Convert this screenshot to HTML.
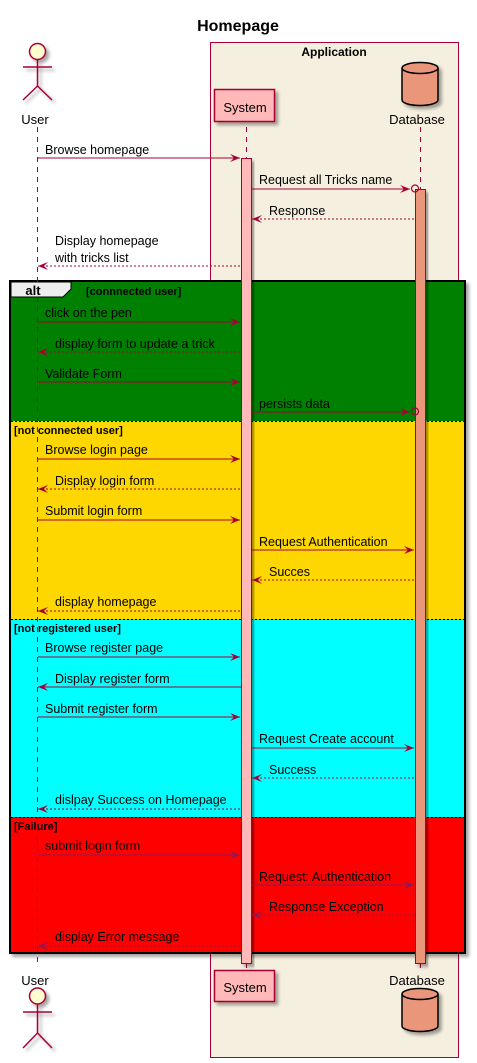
<!DOCTYPE html>
<html><head><meta charset="utf-8"><style>
html,body{margin:0;padding:0;background:#fff;}
svg{display:block;}
text{font-family:"Liberation Sans",sans-serif;}
</style></head><body>
<svg width="477" height="1063" viewBox="0 0 477 1063" xmlns="http://www.w3.org/2000/svg">
<defs>
<filter id="sh" x="-20%" y="-20%" width="150%" height="150%"><feDropShadow dx="3" dy="3" stdDeviation="1.5" flood-color="#000" flood-opacity="0.35"/></filter>
</defs>
<text x="238" y="31" font-size="16" font-weight="bold" text-anchor="middle">Homepage</text>
<rect x="210.5" y="42.5" width="248" height="1015" fill="#F5EFDF" stroke="#A80036" stroke-width="1"/>
<text x="334" y="56" font-size="12" font-weight="bold" text-anchor="middle">Application</text>

<g stroke="#A80036" stroke-width="1.5" fill="none">
<g filter="url(#sh)">
<circle cx="37.5" cy="51.5" r="8" fill="#FEFECE"/>
<line x1="37.5" y1="59.5" x2="37.5" y2="86"/>
<line x1="23" y1="67" x2="52" y2="67"/>
<line x1="37.5" y1="86" x2="23" y2="100"/>
<line x1="37.5" y1="86" x2="52" y2="100"/>
</g>
<g filter="url(#sh)">
<circle cx="37.5" cy="996" r="8" fill="#FEFECE"/>
<line x1="37.5" y1="1004" x2="37.5" y2="1033"/>
<line x1="23" y1="1012" x2="52" y2="1012"/>
<line x1="37.5" y1="1033" x2="23" y2="1048"/>
<line x1="37.5" y1="1033" x2="52" y2="1048"/>
</g>
</g>
<text x="35" y="124" font-size="13" text-anchor="middle">User</text>
<text x="35" y="985" font-size="13" text-anchor="middle">User</text>

<rect x="214.5" y="89.5" width="60" height="32" fill="#FFB9B9" stroke="#A80036" stroke-width="1.5" filter="url(#sh)"/>
<text x="245" y="112" font-size="13" text-anchor="middle">System</text>
<rect x="214.5" y="970.5" width="60" height="31" fill="#FFB9B9" stroke="#A80036" stroke-width="1.5" filter="url(#sh)"/>
<text x="245" y="992" font-size="13" text-anchor="middle">System</text>

<g filter="url(#sh)" stroke="#000" stroke-width="1.5">
<path d="M402,68 a18,5.5 0 0 1 36,0 v32 a18,5.5 0 0 1 -36,0 z" fill="#EA967A"/>
<path d="M402,68 a18,5.5 0 0 0 36,0" fill="none"/>
</g>
<text x="417" y="124" font-size="13" text-anchor="middle">Database</text>
<text x="417" y="985" font-size="13" text-anchor="middle">Database</text>
<g filter="url(#sh)" stroke="#000" stroke-width="1.5">
<path d="M402,994 a18,5.5 0 0 1 36,0 v32 a18,5.5 0 0 1 -36,0 z" fill="#EA967A"/>
<path d="M402,994 a18,5.5 0 0 0 36,0" fill="none"/>
</g>

<g filter="url(#sh)"><rect x="10" y="281" width="455" height="672" fill="#008000" stroke="#000" stroke-width="2"/></g>
<rect x="11" y="421" width="453" height="198" fill="#FFD700"/>
<rect x="11" y="619" width="453" height="198" fill="#00FFFF"/>
<rect x="11" y="817" width="453" height="135" fill="#FF0000"/>
<rect x="10" y="281" width="455" height="672" fill="none" stroke="#000" stroke-width="2"/>
<g stroke="#000" stroke-width="1" stroke-dasharray="2,2">
<line x1="11" y1="421.5" x2="464" y2="421.5"/>
<line x1="11" y1="619.5" x2="464" y2="619.5"/>
<line x1="11" y1="817.5" x2="464" y2="817.5"/>
</g>
<path d="M11,282 H71 V289 L63,297 H11 Z" fill="#EEEEEE" stroke="#000" stroke-width="1"/>
<text x="33" y="295" font-size="13" font-weight="bold" text-anchor="middle">alt</text>
<text x="86" y="295" font-size="11" font-weight="bold">[connnected user]</text>
<text x="14" y="434" font-size="11" font-weight="bold">[not connected user]</text>
<text x="14" y="632" font-size="11" font-weight="bold">[not registered user]</text>
<text x="14" y="830" font-size="11" font-weight="bold">[Failure]</text>

<g stroke="#A80036" stroke-width="1" stroke-dasharray="5,5">
<line x1="37.5" y1="127" x2="37.5" y2="966"/>
<line x1="246.5" y1="127" x2="246.5" y2="158"/>
<line x1="246.5" y1="963" x2="246.5" y2="970"/>
<line x1="420.5" y1="127" x2="420.5" y2="189"/>
<line x1="420.5" y1="963" x2="420.5" y2="970"/>
</g>
<rect x="241.5" y="158.5" width="10" height="805" fill="#FFB9B9" stroke="#A80036" stroke-width="1" filter="url(#sh)"/>
<rect x="415.5" y="189.5" width="10" height="774" fill="#EA967A" stroke="#A80036" stroke-width="1" filter="url(#sh)"/>

<g font-size="12.5" fill="#000">
<g stroke="#A80036" stroke-width="1" fill="none">
<line x1="38" y1="158" x2="240" y2="158"/>
<line x1="252" y1="189" x2="410" y2="189"/>
<line x1="252" y1="219" x2="415" y2="219" stroke-dasharray="2,2"/>
<line x1="38" y1="266" x2="241" y2="266" stroke-dasharray="2,2"/>
<line x1="38" y1="322" x2="240" y2="322"/>
<line x1="38" y1="352" x2="241" y2="352" stroke-dasharray="2,2"/>
<line x1="38" y1="382" x2="240" y2="382"/>
<line x1="252" y1="412" x2="410" y2="412"/>
<line x1="38" y1="459" x2="240" y2="459"/>
<line x1="38" y1="489" x2="241" y2="489" stroke-dasharray="2,2"/>
<line x1="38" y1="520" x2="240" y2="520"/>
<line x1="252" y1="550" x2="414" y2="550"/>
<line x1="252" y1="580" x2="415" y2="580" stroke-dasharray="2,2"/>
<line x1="38" y1="611" x2="241" y2="611" stroke-dasharray="2,2"/>
<line x1="38" y1="657" x2="240" y2="657"/>
<line x1="38" y1="687" x2="241" y2="687"/>
<line x1="38" y1="717" x2="240" y2="717"/>
<line x1="252" y1="748" x2="414" y2="748"/>
<line x1="252" y1="778" x2="415" y2="778" stroke-dasharray="2,2"/>
<line x1="38" y1="809" x2="241" y2="809" stroke-dasharray="2,2"/>
</g>
<g stroke="#8B1A5A" stroke-width="1" fill="none">
<line x1="38" y1="855" x2="240" y2="855"/>
<line x1="252" y1="885" x2="414" y2="885"/>
<line x1="252" y1="915" x2="415" y2="915" stroke-dasharray="2,2"/>
<line x1="38" y1="946" x2="241" y2="946" stroke-dasharray="2,2"/>
</g>
<g fill="#A80036">
<polygon points="230,154 240,158 230,162 234,158"/>
<polygon points="400,185 410,189 400,193 404,189"/>
<polygon points="262,215 252,219 262,223 258,219"/>
<polygon points="48,262 38,266 48,270 44,266"/>
<polygon points="230,318 240,322 230,326 234,322"/>
<polygon points="48,348 38,352 48,356 44,352"/>
<polygon points="230,378 240,382 230,386 234,382"/>
<polygon points="400,408 410,412 400,416 404,412"/>
<polygon points="230,455 240,459 230,463 234,459"/>
<polygon points="48,485 38,489 48,493 44,489"/>
<polygon points="230,516 240,520 230,524 234,520"/>
<polygon points="404,546 414,550 404,554 408,550"/>
<polygon points="262,576 252,580 262,584 258,580"/>
<polygon points="48,607 38,611 48,615 44,611"/>
<polygon points="230,653 240,657 230,661 234,657"/>
<polygon points="48,683 38,687 48,691 44,687"/>
<polygon points="230,713 240,717 230,721 234,717"/>
<polygon points="404,744 414,748 404,752 408,748"/>
<polygon points="262,774 252,778 262,782 258,778"/>
<polygon points="48,805 38,809 48,813 44,809"/>
</g>
<g fill="#8B1A5A">
<polygon points="230,851 240,855 230,859 234,855"/>
<polygon points="404,881 414,885 404,889 408,885"/>
<polygon points="262,911 252,915 262,919 258,915"/>
<polygon points="48,942 38,946 48,950 44,946"/>
</g>
<circle cx="415" cy="188.5" r="3.5" fill="none" stroke="#A80036" stroke-width="1.2"/>
<circle cx="415" cy="411.5" r="3.5" fill="none" stroke="#A80036" stroke-width="1.2"/>

<text x="45" y="154">Browse homepage</text>
<text x="259" y="184">Request all Tricks name</text>
<text x="269" y="215">Response</text>
<text x="55" y="245">Display homepage</text>
<text x="55" y="262">with tricks list</text>
<text x="45" y="317">click on the pen</text>
<text x="55" y="348">display form to update a trick</text>
<text x="45" y="378">Validate Form</text>
<text x="259" y="408">persists data</text>
<text x="45" y="454">Browse login page</text>
<text x="55" y="485">Display login form</text>
<text x="45" y="515">Submit login form</text>
<text x="259" y="546">Request Authentication</text>
<text x="269" y="576">Succes</text>
<text x="55" y="606">display homepage</text>
<text x="45" y="652">Browse register page</text>
<text x="55" y="683">Display register form</text>
<text x="45" y="713">Submit register form</text>
<text x="259" y="743">Request Create account</text>
<text x="269" y="774">Success</text>
<text x="55" y="804">dislpay Success on Homepage</text>
<text x="45" y="850">submit login form</text>
<text x="259" y="881">Request: Authentication</text>
<text x="269" y="911">Response Exception</text>
<text x="55" y="941">display Error message</text>
</g>
</svg>
</body></html>
